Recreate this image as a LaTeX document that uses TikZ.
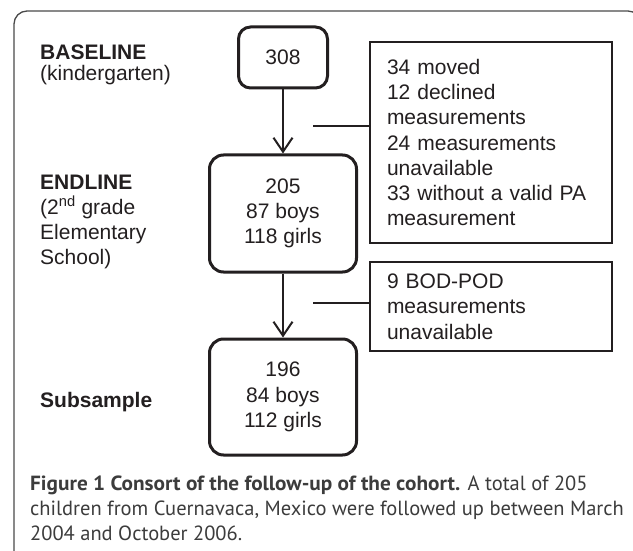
\documentclass[tikz,border=0pt]{standalone}
\usepackage{fontspec}
\setmainfont{Liberation Sans}
\newfontfamily\capfont{PT Sans}[BoldFeatures={FakeStretch=1.037}]
\usetikzlibrary{arrows.meta}
\definecolor{ink}{HTML}{231F20}
\definecolor{capink}{HTML}{3C3C3C}
\definecolor{framec}{HTML}{4A4A4A}
\begin{document}
\begin{tikzpicture}[x=1pt,y=-1pt,
  dfont/.style={font=\fontsize{21}{25.3}\selectfont, text=ink},
  rbox/.style={dfont, draw=ink, line width=3pt, rounded corners=14pt, inner sep=0pt, align=center},
  sbox/.style={dfont, draw=ink, line width=2pt, inner xsep=17pt, inner ysep=0pt, align=left, text width=208pt},
  lab/.style={dfont, inner sep=0pt, align=left, anchor=base west},
  conn/.style={draw=ink, line width=2pt},
  arr/.style={conn, -{Straight Barb[length=14pt,width=19pt,line width=2pt]}},
  captext/.style={font=\capfont\fontsize{20.5}{25}\selectfont, text=capink, inner sep=0pt, anchor=base west},
  outerframe/.style={draw=framec, line width=1.3pt, rounded corners=13pt}
]
\useasboundingbox (0,0) rectangle (633,551);
\clip (0,0) rectangle (633,551);
\fill[white] (0,0) rectangle (633,551);
\draw[outerframe] (14,600) |- (641,11) -- (641,600);

% flow boxes
\node[rbox, minimum width=89pt, minimum height=61pt, rounded corners=12pt] (b308) at (283,57.5) {308};
\node[rbox, minimum width=147pt, minimum height=117pt] (b205) at (283,213.5) {205\\87 boys\\118 girls};
\node[rbox, minimum width=147pt, minimum height=116pt] (b196) at (283,397) {196\\84 boys\\112 girls};

% exclusion boxes
\node[sbox, minimum height=201pt] (r1) at (491,142.5) {34 moved\\12 declined\\measurements\\24 measurements\\unavailable\\33 without a valid PA\\measurement};
\node[sbox, minimum height=89pt] (r2) at (491,306.5) {9 BOD-POD\\measurements\\unavailable};

% arrows
\draw[arr] (b308.south) -- (b205.north);
\draw[arr] (b205.south) -- (b196.north);
\coordinate (j1) at (313,126);
\coordinate (j2) at (313,303);
\draw[conn] (j1) -- (j1 -| r1.west);
\draw[conn] (j2) -- (j2 -| r2.west);

% stage labels (anchored at the baseline of their last line)
\node[lab] (lbase) at (40,81) {\textbf{BASELINE}\\[-4.3pt](kindergarten)};
\node[lab] (lend) at (40,265) {\textbf{ENDLINE}\\(2\textsuperscript{nd} grade\\Elementary\\School)};
\node[lab] (lsub) at (40,407) {\textbf{Subsample}};

% caption
\node[captext] (cap1) at (30,490) {\textbf{Figure 1 Consort of the follow-up of the cohort.} A total of 205};
\node[captext] (cap2) at (30,515) {children from Cuernavaca, Mexico were followed up between March};
\node[captext] (cap3) at (30,540) {2004 and October 2006.};
\end{tikzpicture}
\end{document}
